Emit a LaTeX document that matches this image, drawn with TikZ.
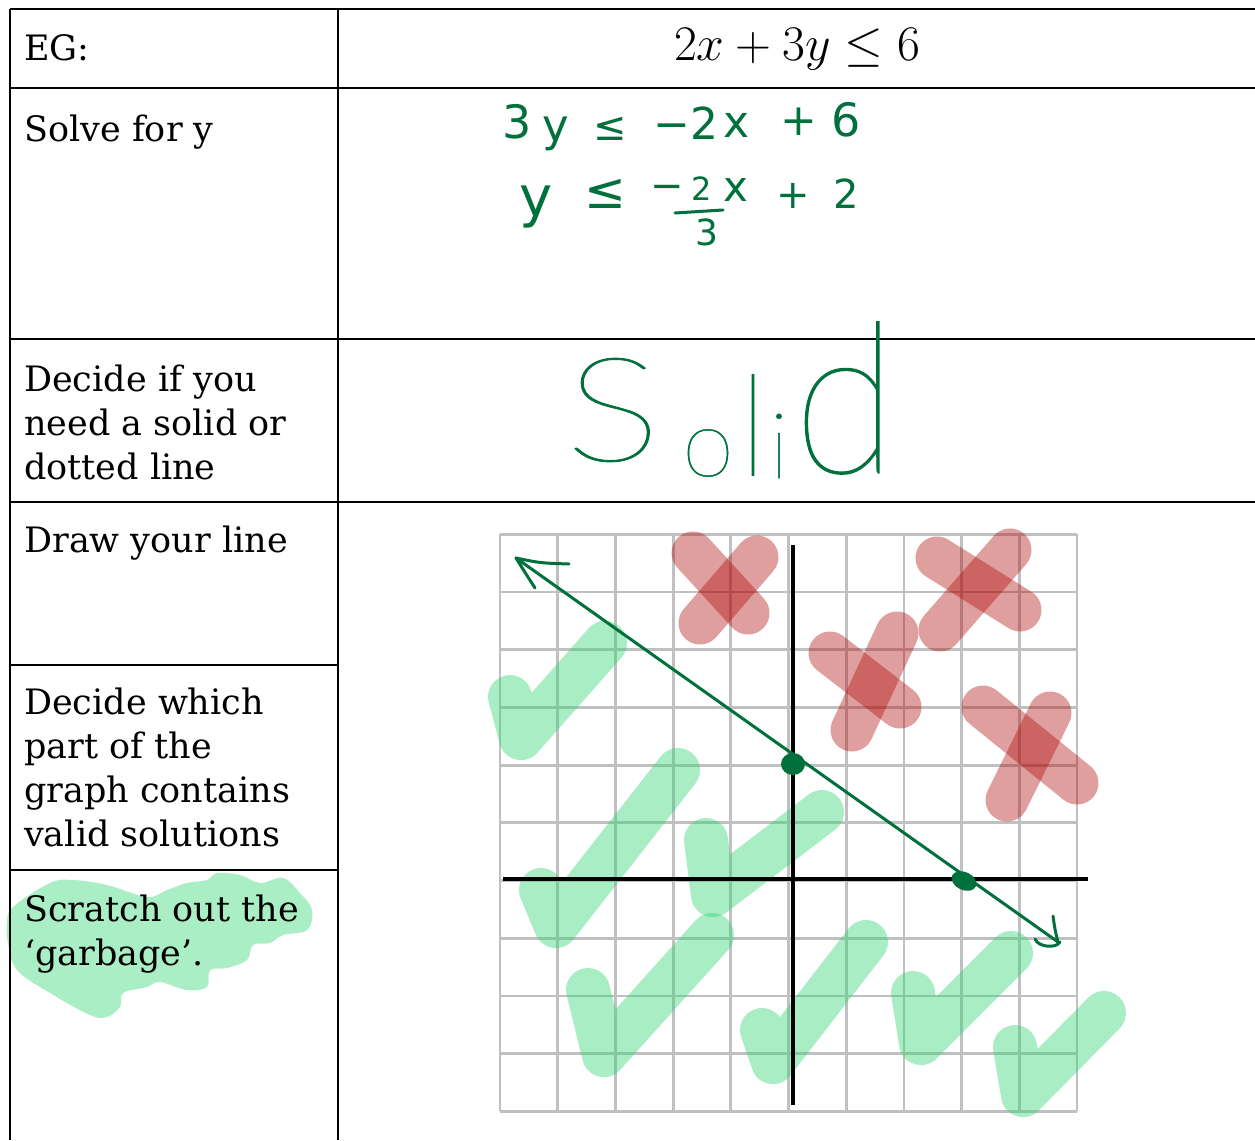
\documentclass[tikz,border=0pt]{standalone}
\usepackage[no-math]{fontspec}
\setmainfont{DejaVu Serif}
\newfontfamily\hwfont{DejaVu Sans}
\IfFontExistsTF{Lato Thin}{\newfontfamily\solidfont{Lato Thin}[FakeBold=0.6]}{%
  \IfFontExistsTF{Lato Light}{\newfontfamily\solidfont{Lato Light}}{\newfontfamily\solidfont{DejaVu Sans}}}
\newcommand\hws[1]{\hwfont\fontsize{#1}{#1}\selectfont}
\newcommand\sls[1]{\solidfont\fontsize{#1}{#1}\selectfont}
\definecolor{hwgreen}{RGB}{0,112,60}
\definecolor{chk}{RGB}{42,212,110}
\definecolor{xred}{RGB}{176,8,8}
\definecolor{gridgray}{RGB}{192,192,192}
\definecolor{hl}{RGB}{170,238,197}
\begin{document}
\begin{tikzpicture}[x=1pt,y=-1pt,
  rule/.style={line width=2.6pt,black},
  lbl/.style={anchor=base west,inner sep=0pt,font=\fontsize{35}{42}\selectfont},
  hw/.style={text=hwgreen,inner sep=0pt},
  gridl/.style={line width=2.8pt,gridgray},
  axis/.style={line width=3.4pt,black},
  xmark/.style={line width=43pt,xred,opacity=0.39,line cap=round},
  checkm/.style={line width=44pt,chk,opacity=0.4,line cap=round,line join=round},
  pen/.style={line width=3pt,hwgreen,line cap=round,line join=round}]
\fill[white] (0,0) rectangle (1255,1140);
\useasboundingbox (0,0) rectangle (1255,1140);

% highlight behind the last label
\fill[hl] plot[smooth cycle,tension=0.6] coordinates {(13,907) (50,883) (73,880) (107,885) (147,897) (167,890) (187,883) (207,880) (217,873) (240,875) (260,883) (283,878) (300,893) (312,910) (307,930) (283,935) (270,943) (253,945) (247,960) (227,968) (210,970) (207,987) (187,990) (160,982) (147,987) (123,993) (120,1007) (107,1017) (90,1015) (50,993) (17,970) (8,943) (7,923)};

% table
\draw[rule] (10,9) -- (1255,9);
\draw[rule] (10,88) -- (1255,88);
\draw[rule] (10,339) -- (1255,339);
\draw[rule] (10,502) -- (1255,502);
\draw[rule] (10,665) -- (338,665);
\draw[rule] (10,870) -- (338,870);
\draw[rule] (10,9) -- (10,1140);
\draw[rule] (338,9) -- (338,1140);

% left labels
\node[lbl] (eg) at (24,60) {EG:};
\node[lbl] (solve) at (24,141) {Solve for y};
\node[lbl] (dec1) at (24,391) {Decide if you};
\node[lbl] (dec2) at (24,435) {need a solid or};
\node[lbl] (dec3) at (24,479) {dotted line};
\node[lbl] (draw) at (24,552) {Draw your line};
\node[lbl] (part1) at (24,714) {Decide which};
\node[lbl] (part2) at (24,758) {part of the};
\node[lbl] (part3) at (24,802) {graph contains};
\node[lbl] (part4) at (24,846) {valid solutions};
\node[lbl] (scr1) at (24,921) {Scratch out the};
\node[lbl] (scr2) at (24,965) {‘garbage’.};

% inequality
\node[anchor=base,inner sep=0pt,font=\fontsize{24.88}{28}\selectfont] (ineq) at (797,60) {\scalebox{2.0}{$2x+3y\leq 6$}};

% handwritten work, line 1
\node[hw,font=\hws{46}] (a1) at (517,122) {3};
\node[hw,font=\hws{45}] (a2) at (556,134) {y};
\node[hw,font=\hws{40}] (a3) at (610,129) {≤};
\node[hw,font=\hws{44}] (a4) at (686,123) {−2};
\node[hw,font=\hws{44}] (a5) at (737,125) {x};
\node[hw,font=\hws{44}] (a6) at (799,122) {+};
\node[hw,font=\hws{46}] (a7) at (846,120) {6};
% line 2
\node[hw,font=\hws{56}] (b1) at (536,207) {y};
\node[hw,font=\hws{50}] (b2) at (605,194) {≤};
\node[hw,font=\hws{40}] (b3) at (667,192) {−};
\node[hw,font=\hws{32}] (b4) at (702,189) {2};
\node[hw,font=\hws{36}] (b5) at (707,232) {3};
\coordinate (fb1) at (675,213);
\coordinate (fb2) at (723,210);
\draw[pen] (fb1) -- (fb2);
\node[hw,font=\hws{42}] (b6) at (736,190) {x};
\node[hw,font=\hws{40}] (b7) at (793,196) {+};
\node[hw,font=\hws{40}] (b8) at (846,194) {2};

% Solid
\node[hw,font=\sls{145}] (s1) at (613,410) {\scalebox{1.25}[1]{S}};
\node[hw,font=\sls{94}] (s2) at (708,453) {o};
\node[hw,font=\sls{140}] (s3) at (753,425) {l};
\node[hw,font=\sls{92}] (s4) at (779,446) {i};
\node[hw,font=\sls{210}] (s5) at (845,398) {\scalebox{0.9}[1]{d}};

% grid
\foreach \i in {0,...,10} {
  \draw[gridl] ({500+57.7*\i},534.3) -- ({500+57.7*\i},1111.3);
  \draw[gridl] (500,{534.3+57.7*\i}) -- (1077,{534.3+57.7*\i});
}

% check marks
\draw[checkm] (510,697) -- (521,738) -- (605,643);
\draw[checkm] (541,890) -- (556,926) -- (678,770);
\draw[checkm] (706,840) -- (713,895) -- (822,812);
\draw[checkm] (588,990) -- (604,1055) -- (712,935);
\draw[checkm] (762,1030) -- (773,1062) -- (866,942);
\draw[checkm] (913,993) -- (921,1043) -- (1011,953);
\draw[checkm] (1015,1047) -- (1023,1095) -- (1104,1013);

% crosses
\draw[xmark] (693,553) -- (748,613);
\draw[xmark] (757,557) -- (700,623);
\draw[xmark] (937,558) -- (1020,610);
\draw[xmark] (1010,550) -- (940,630);
\draw[xmark] (830,653) -- (900,707);
\draw[xmark] (897,633) -- (852,730);
\draw[xmark] (983,707) -- (1077,783);
\draw[xmark] (1050,713) -- (1007,800);

% axes
\draw[axis] (793,545) -- (793,1105);
\draw[axis] (503,879) -- (1088,879);

% boundary line
\coordinate (tipA) at (516,558);
\coordinate (tipB) at (1058,942);
\draw[pen] (tipA) -- (tipB);
\draw[pen] (tipA) .. controls (540,563) .. (569,564);
\draw[pen] (tipA) .. controls (526,574) .. (535,588);
\draw[pen] (tipB) .. controls (1055,930) .. (1053,916);
\draw[pen] (1035,939) .. controls (1038,947) and (1056,949) .. (1060,942);
\fill[hwgreen] (793,764) ellipse [x radius=12pt,y radius=11pt];
\fill[hwgreen,rotate around={-25:(964,881)}] (964,881) ellipse [x radius=13pt,y radius=9pt];
\end{tikzpicture}
\end{document}
